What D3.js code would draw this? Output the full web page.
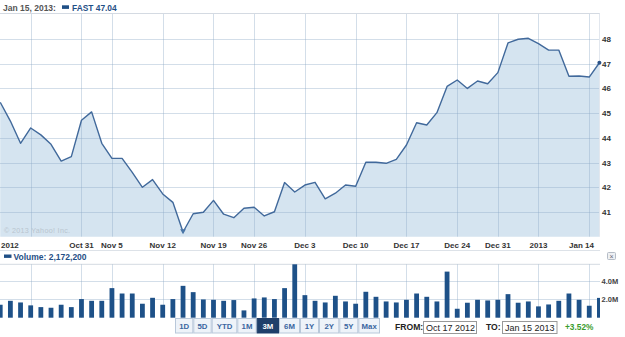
<!DOCTYPE html>
<html><head><meta charset="utf-8">
<script src="https://cdn.jsdelivr.net/npm/d3@7"></script>
<style>
body{margin:0;background:#fff;}
svg{display:block;font-family:"Liberation Sans",Arial,sans-serif;}
</style>
</head><body>
<svg id="c" width="625" height="337"></svg>
<script>
const dates = ["Oct 17","Oct 18","Oct 19","Oct 22","Oct 23","Oct 24","Oct 25","Oct 26","Oct 31","Nov 1",
"Nov 2","Nov 5","Nov 6","Nov 7","Nov 8","Nov 9","Nov 12","Nov 13","Nov 14","Nov 15",
"Nov 16","Nov 19","Nov 20","Nov 21","Nov 23","Nov 26","Nov 27","Nov 28","Nov 29","Nov 30",
"Dec 3","Dec 4","Dec 5","Dec 6","Dec 7","Dec 10","Dec 11","Dec 12","Dec 13","Dec 14",
"Dec 17","Dec 18","Dec 19","Dec 20","Dec 21","Dec 24","Dec 26","Dec 27","Dec 28","Dec 31",
"Jan 2","Jan 3","Jan 4","Jan 7","Jan 8","Jan 9","Jan 10","Jan 11","Jan 14","Jan 15"];
const closes = [45.44,44.68,43.78,44.40,44.12,43.74,43.06,43.24,44.71,45.05,
43.78,43.17,43.17,42.60,42.00,42.31,41.73,41.39,40.19,40.93,
40.99,41.47,40.91,40.77,41.15,41.19,40.84,41.01,42.19,41.81,
42.09,42.20,41.53,41.76,42.09,42.04,43.01,43.01,42.97,43.13,
43.71,44.61,44.52,45.02,46.08,46.34,46.00,46.30,46.19,46.64,
47.84,47.99,48.03,47.81,47.55,47.55,46.49,46.50,46.46,47.04];
const volumesM = [1.42,1.85,1.67,1.35,1.16,1.09,1.42,1.16,2.04,1.85,
1.85,3.24,2.65,2.65,1.53,2.18,1.42,2.04,3.49,2.80,
2.00,1.96,1.85,1.93,0.80,2.11,2.22,2.04,3.24,5.85,
2.47,1.85,1.67,2.40,1.78,1.53,2.84,2.29,1.78,1.67,
1.96,2.65,2.29,1.78,5.05,0.98,1.64,1.96,1.89,1.96,
2.58,1.64,1.78,1.24,1.45,1.85,2.65,1.96,1.31,2.17];
const tickIdx = [3,8,11,16,21,25,30,35,40,45,49,53,58];
const tickLabels = ["","Oct 31","Nov 5","Nov 12","Nov 19","Nov 26","Dec 3","Dec 10","Dec 17","Dec 24","Dec 31","2013","Jan 14"];
const priceTicks = [41,42,43,44,45,46,47,48];
const volTicks = [2,4];
const volTickLabels = ["2.0M","4.0M"];
const rangeButtons = ["1D","5D","YTD","1M","3M","6M","1Y","2Y","5Y","Max"];
const selectedRange = "3M";
const headerDate = "Jan 15, 2013:";
const symbol = "FAST";
const volumeLabel = "Volume: 2,172,200";
const fromDate = "Oct 17 2012", toDate = "Jan 15 2013", change = "+3.52%";

const svg = d3.select("#c");
const W = 600;
const x = d3.scaleLinear().domain([0, dates.length-1]).range([0.23, 599.4]);
const y = d3.scaleLinear().domain([40, 48]).range([236.7, 39]);
const priceTop = 13.5, priceBot = 236.7;
const yv = d3.scaleLinear().domain([0, 5.85]).range([317.7, 264.3]);
const volTop = 264.3, volBot = 317.7;
const blue = "#1f4f86", gridC = "rgba(140,168,198,0.38)";

const defs = svg.append("defs");
defs.append("clipPath").attr("id","cp").append("rect").attr("x",0).attr("y",0).attr("width",W).attr("height",337);

// header
svg.append("text").attr("x",3).attr("y",10.7).attr("font-size",8.5).attr("font-weight","bold").attr("fill","#555").text(headerDate);
svg.append("rect").attr("x",62).attr("y",5.3).attr("width",7).attr("height",3.6).attr("fill",blue);
svg.append("text").attr("x",72).attr("y",10.7).attr("font-size",8.4).attr("font-weight","bold").attr("fill",blue).text(symbol+" "+closes[closes.length-1].toFixed(2));

// price area
const area = d3.area().x((d,i)=>x(i)).y0(priceBot).y1(d=>y(d));
svg.append("path").datum(closes).attr("d",area).attr("fill","#d5e4f0").attr("clip-path","url(#cp)");

// grid price
const g = svg.append("g");
g.selectAll(".hg").data(priceTicks).join("line").attr("x1",0).attr("x2",W).attr("y1",d=>Math.round(y(d))+0.5).attr("y2",d=>Math.round(y(d))+0.5).attr("stroke",gridC);
g.selectAll(".vg").data(tickIdx).join("line").attr("x1",d=>Math.round(x(d))+0.5).attr("x2",d=>Math.round(x(d))+0.5).attr("y1",priceTop).attr("y2",priceBot).attr("stroke",gridC);
svg.append("line").attr("x1",0).attr("x2",W).attr("y1",priceTop).attr("y2",priceTop).attr("stroke","#d4dae2");
svg.append("line").attr("x1",W-0.5).attr("x2",W-0.5).attr("y1",priceTop).attr("y2",priceBot).attr("stroke","#e2e7ee");

// copyright
svg.append("text").attr("x",4).attr("y",233).attr("font-size",7.2).attr("letter-spacing",0.3).attr("fill","#b9c4cf").text("\u00A9 2013 Yahoo! Inc.");

// line
const line = d3.line().x((d,i)=>x(i)).y(d=>y(d));
svg.append("path").datum(closes).attr("d",line).attr("fill","none").attr("stroke","#41699b").attr("stroke-width",1.4).attr("stroke-linejoin","round");
svg.append("circle").attr("cx",x(closes.length-1)).attr("cy",y(closes[closes.length-1])).attr("r",2).attr("fill","#2a5288");

// event marker
svg.append("path").attr("d",d3.symbol(d3.symbolTriangle,14)()).attr("transform",`translate(${x(18)},231) rotate(180)`).attr("fill","#4a76a8");

// price axis labels
svg.selectAll(".pl").data(priceTicks).join("text").attr("x",602).attr("y",d=>y(d)+3).attr("font-size",8).attr("font-weight","bold").attr("fill","#333").text(d=>d);

// x axis labels
svg.append("text").attr("x",1).attr("y",247.5).attr("font-size",8).attr("font-weight","bold").attr("fill","#333").text("2012");
svg.selectAll(".xl").data(tickIdx).join("text").attr("x",d=>x(d)).attr("y",247.5).attr("text-anchor","middle").attr("font-size",8).attr("font-weight","bold").attr("fill","#333").text((d,i)=>tickLabels[i])
  .each(function(){const bb=this.getBBox(); if(bb.x+bb.width>594){d3.select(this).attr("text-anchor","end").attr("x",594);}});

svg.append("line").attr("x1",0).attr("x2",W).attr("y1",250.5).attr("y2",250.5).attr("stroke","#dde2e8");

// volume legend
svg.append("rect").attr("x",4).attr("y",254.5).attr("width",7.5).attr("height",3.4).attr("fill",blue);
svg.append("text").attr("x",13.5).attr("y",260).attr("font-size",8.5).attr("font-weight","bold").attr("fill",blue).text(volumeLabel);
// close box
svg.append("rect").attr("x",607.5).attr("y",252.5).attr("width",8).attr("height",7).attr("fill","#eef0f3").attr("stroke","#b5bcc6").attr("rx",1);
svg.append("text").attr("x",611.5).attr("y",258.6).attr("text-anchor","middle").attr("font-size",7).attr("fill","#667").text("\u00D7");

// volume grid
svg.append("line").attr("x1",0).attr("x2",W).attr("y1",volTop).attr("y2",volTop).attr("stroke","#d4dae2");
svg.selectAll(".vh").data(volTicks).join("line").attr("x1",0).attr("x2",W).attr("y1",d=>Math.round(yv(d))+0.5).attr("y2",d=>Math.round(yv(d))+0.5).attr("stroke",gridC);
svg.selectAll(".vv").data(tickIdx).join("line").attr("x1",d=>Math.round(x(d))+0.5).attr("x2",d=>Math.round(x(d))+0.5).attr("y1",volTop).attr("y2",volBot).attr("stroke",gridC);

// volume bars
svg.append("g").attr("clip-path","url(#cp)").selectAll("rect").data(volumesM).join("rect")
  .attr("x",(d,i)=>x(i)-2.4).attr("width",4.8).attr("y",d=>yv(d)).attr("height",d=>volBot-yv(d)).attr("fill","#1e5188");

svg.selectAll(".vl").data(volTicks).join("text").attr("x",601.5).attr("y",d=>yv(d)+3).attr("font-size",7.5).attr("font-weight","bold").attr("fill","#444").text((d,i)=>volTickLabels[i]);

// range buttons
const btnX = [175,193.3,211.7,237.3,256.7,279,300,319,339.3,358.3,380];
const bg = svg.append("g");
rangeButtons.forEach((b,i)=>{
  const sel = b===selectedRange;
  bg.append("rect").attr("x",btnX[i]+0.5).attr("y",318.5).attr("width",btnX[i+1]-btnX[i]-1).attr("height",14.5)
    .attr("fill",sel?"#1f3f6a":"#eef3f9").attr("stroke",sel?"#1f3f6a":"#b9c8da");
  bg.append("text").attr("x",(btnX[i]+btnX[i+1])/2).attr("y",329).attr("text-anchor","middle").attr("font-size",7.8).attr("font-weight","bold")
    .attr("fill",sel?"#fff":"#3a66a0").text(b);
});
svg.append("text").attr("x",395).attr("y",330).attr("font-size",8.6).attr("font-weight","bold").attr("fill","#222").text("FROM:");
svg.append("rect").attr("x",423.5).attr("y",321.5).attr("width",53).attr("height",12).attr("fill","#fff").attr("stroke","#999");
svg.append("text").attr("x",426).attr("y",330.5).attr("font-size",9).attr("fill","#222").text(fromDate);
svg.append("text").attr("x",486).attr("y",330).attr("font-size",8.6).attr("font-weight","bold").attr("fill","#222").text("TO:");
svg.append("rect").attr("x",502.5).attr("y",321.5).attr("width",54.5).attr("height",12).attr("fill","#fff").attr("stroke","#999");
svg.append("text").attr("x",505).attr("y",330.5).attr("font-size",9).attr("fill","#222").text(toDate);
svg.append("text").attr("x",565).attr("y",330).attr("font-size",8.3).attr("font-weight","bold").attr("fill","#3a9c2e").text(change);
</script>
</body></html>
